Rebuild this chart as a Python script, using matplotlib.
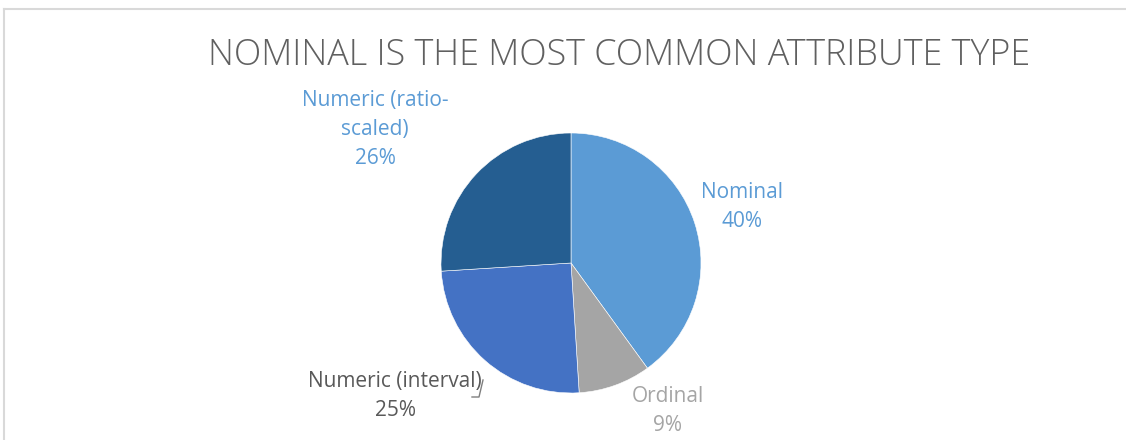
import matplotlib
matplotlib.use("Agg")
import matplotlib.pyplot as plt

title = "NOMINAL IS THE MOST COMMON ATTRIBUTE TYPE"
categories = ["Nominal", "Ordinal", "Numeric (interval)", "Numeric (ratio-\nscaled)"]
values = [40, 9, 25, 26]
colors = ["#5B9BD5", "#A5A5A5", "#4472C4", "#255E91"]
label_colors = ["#5B9BD5", "#A5A5A5", "#595959", "#5B9BD5"]

W, H = 1126, 440
fig = plt.figure(figsize=(W / 100, H / 100), dpi=100)
ax = fig.add_axes([0, 0, 1, 1])

# frame border (top and left visible)
ax.plot([4, W], [H - 9, H - 9], color="#D9D9D9", lw=1.5)
ax.plot([4, 4], [H - 9, 0], color="#D9D9D9", lw=1.5)

ax.pie(values, colors=colors, startangle=90, counterclock=False,
       center=(571, H - 263), radius=130, frame=True,
       wedgeprops=dict(edgecolor="white", linewidth=0.4))
ax.set_xlim(0, W)
ax.set_ylim(0, H)
ax.set_aspect("equal")
ax.axis("off")

fam = ["Open Sans", "DejaVu Sans"]
ax.text(619, H - 55, title, ha="center", va="center", fontsize=25.8,
        color="#606060", family=fam, fontweight="light")

label_pos = [(742, H - 207), (668, H - 411), (395, H - 396), (375, H - 129)]
for cat, v, (x, y), c in zip(categories, values, label_pos, label_colors):
    ax.text(x, y, f"{cat}\n{v}%", ha="center", va="center", fontsize=15,
            color=c, family=fam, linespacing=1.5)

# small leader line near interval label
ax.plot([483, 479, 472], [H - 380, H - 397, H - 397], color="#7F7F7F", lw=1)

fig.savefig("out.png", dpi=100, facecolor="white")
